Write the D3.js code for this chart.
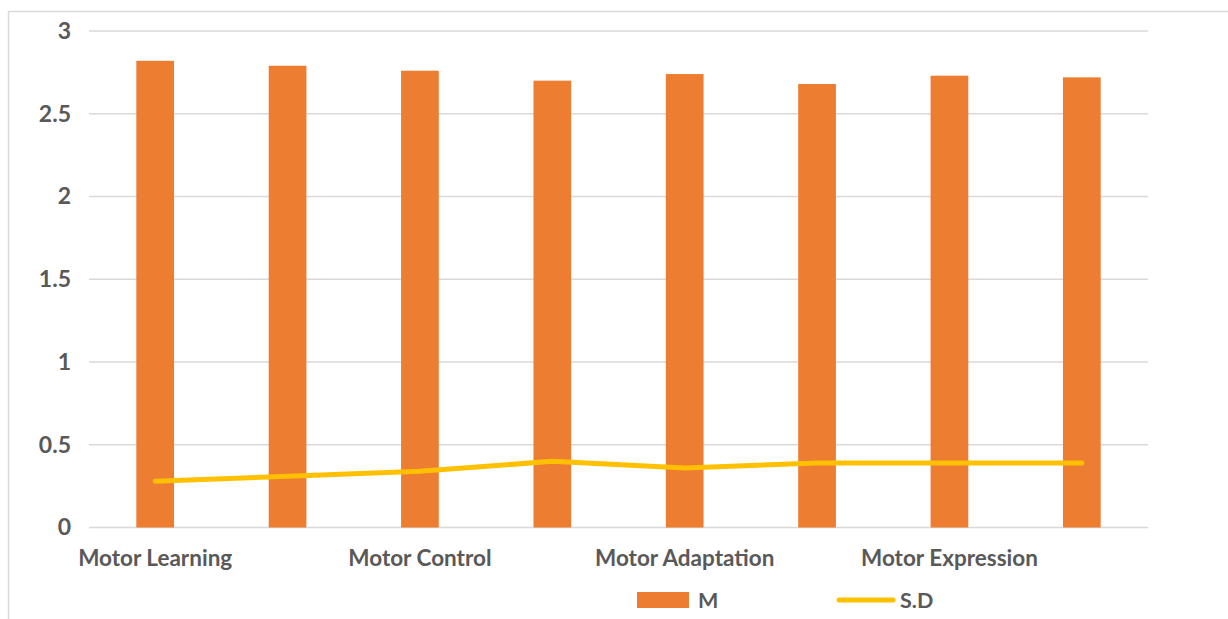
<!DOCTYPE html>
<html>
<head>
<meta charset="utf-8">
<script src="https://cdn.jsdelivr.net/npm/d3@7"></script>
<style>
  html, body { margin: 0; padding: 0; background: #fff; }
  svg { display: block; }
  text { font-family: Lato, "Open Sans", sans-serif; font-weight: 700; fill: #595959; }
</style>
</head>
<body>
<svg id="chart" width="1228" height="619"></svg>
<script>
// Eight domains; the category axis labels every other one
const categories = ["Motor Learning", "", "Motor Control", "", "Motor Adaptation", "", "Motor Expression", ""];
const meanValues = [2.82, 2.79, 2.76, 2.70, 2.74, 2.68, 2.73, 2.72];
const sdValues   = [0.28, 0.31, 0.34, 0.40, 0.36, 0.39, 0.39, 0.39];
const yTicks = [0, 0.5, 1, 1.5, 2, 2.5, 3];
const yTickLabels = ["0", "0.5", "1", "1.5", "2", "2.5", "3"];
const seriesNames = ["M", "S.D"];

const colors = { bar: "#ED7D31", line: "#FFC000", grid: "#D9D9D9", frame: "#D9D9D9" };

const svg = d3.select("#chart");
const plot = { left: 89, right: 1148, top: 31, bottom: 527.5 };

// chart frame (top and left edges visible)
svg.append("path")
  .attr("d", "M8.5,619 L8.5,11.5 L1228,11.5")
  .attr("fill", "none").attr("stroke", colors.frame).attr("stroke-width", 1.5);

const idx = d3.range(categories.length);
const x = d3.scaleBand().domain(idx).range([plot.left, plot.right]).paddingInner(0.715).paddingOuter(0.3575);
const xc = d3.scaleBand().domain(idx).range([plot.left, plot.right]);
const y = d3.scaleLinear().domain([0, 3]).range([plot.bottom, plot.top]);

// horizontal gridlines
svg.append("g").selectAll("line").data(yTicks).join("line")
  .attr("x1", plot.left).attr("x2", plot.right)
  .attr("y1", d => y(d)).attr("y2", d => y(d))
  .attr("stroke", colors.grid).attr("stroke-width", 1.5);

// y axis labels
const yAxis = d3.axisLeft(y).tickValues(yTicks).tickSize(0).tickPadding(0)
  .tickFormat((d, i) => yTickLabels[i]);
const gy = svg.append("g").attr("transform", "translate(71,0)").call(yAxis);
gy.select(".domain").remove();
gy.selectAll("text").attr("font-size", 23).attr("fill", "#595959")
  .style("font-family", "Lato, 'Open Sans', sans-serif").style("font-weight", 700);

// bars for the mean
svg.append("g").selectAll("rect").data(meanValues).join("rect")
  .attr("x", (d, i) => x(i))
  .attr("width", x.bandwidth())
  .attr("y", d => y(d))
  .attr("height", d => y(0) - y(d))
  .attr("fill", colors.bar);

// standard deviation line
const line = d3.line()
  .x((d, i) => xc(i) + xc.bandwidth() / 2)
  .y(d => y(d));
svg.append("path").datum(sdValues)
  .attr("d", line)
  .attr("fill", "none")
  .attr("stroke", colors.line)
  .attr("stroke-width", 5)
  .attr("stroke-linecap", "round")
  .attr("stroke-linejoin", "round");

// category labels
const xAxis = d3.axisBottom(xc).tickSize(0).tickPadding(0).tickFormat(i => categories[i]);
const gx = svg.append("g").attr("transform", "translate(0,547)").call(xAxis);
gx.select(".domain").remove();
gx.selectAll("text").attr("font-size", 22.5).attr("dy", "0.85em")
  .attr("fill", "#595959")
  .style("font-family", "Lato, 'Open Sans', sans-serif").style("font-weight", 700);

// legend
const legend = svg.append("g");
legend.append("rect").attr("x", 637).attr("y", 592).attr("width", 52).attr("height", 16).attr("fill", colors.bar);
legend.append("text").attr("x", 698).attr("y", 600).attr("dy", "0.36em").attr("font-size", 21.5).text(seriesNames[0]);
legend.append("line").attr("x1", 839).attr("x2", 893).attr("y1", 600).attr("y2", 600)
  .attr("stroke", colors.line).attr("stroke-width", 5).attr("stroke-linecap", "round");
legend.append("text").attr("x", 900).attr("y", 600).attr("dy", "0.36em").attr("font-size", 21.5).text(seriesNames[1]);
</script>
</body>
</html>
